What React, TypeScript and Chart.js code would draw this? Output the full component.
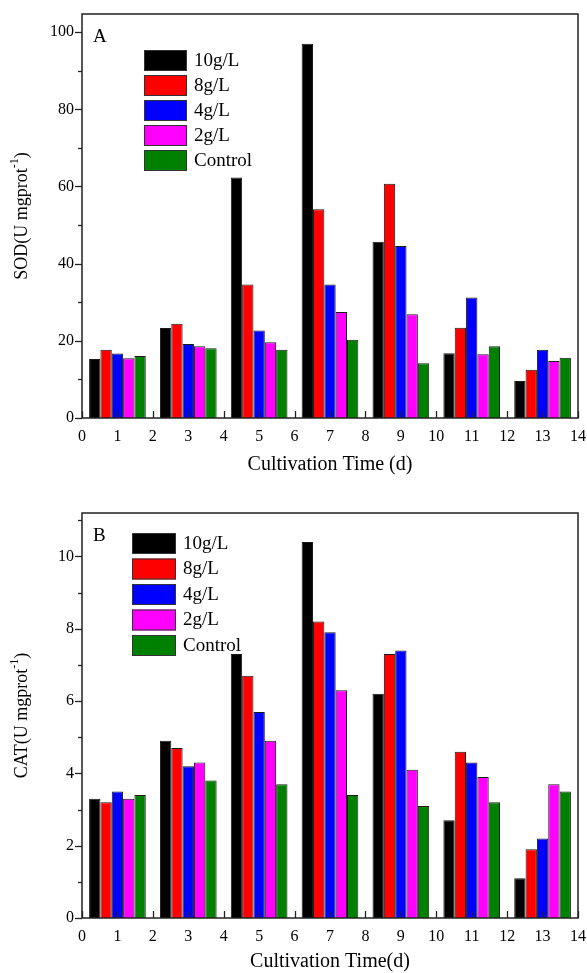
import React, { useEffect, useRef } from 'react';
import { Chart, registerables } from 'chart.js';

Chart.register(...registerables);

// ---------- data ----------
const days = [1, 3, 5, 7, 9, 11, 13];
const seriesLabels = ['10g/L', '8g/L', '4g/L', '2g/L', 'Control'];
const seriesColors = ['#000000', '#ff0000', '#0000ff', '#ff00ff', '#008000'];

const sod10 = [15.3, 23.3, 62.3, 97.0, 45.7, 16.8, 9.6];
const sod8 = [17.7, 24.4, 34.6, 54.1, 60.7, 23.4, 12.5];
const sod4 = [16.7, 19.2, 22.7, 34.6, 44.6, 31.2, 17.7];
const sod2 = [15.5, 18.6, 19.6, 27.5, 26.9, 16.5, 14.8];
const sodControl = [16.1, 18.1, 17.7, 20.3, 14.2, 18.6, 15.6];

const cat10 = [3.3, 4.9, 7.3, 10.4, 6.2, 2.7, 1.1];
const cat8 = [3.2, 4.7, 6.7, 8.2, 7.3, 4.6, 1.9];
const cat4 = [3.5, 4.2, 5.7, 7.9, 7.4, 4.3, 2.2];
const cat2 = [3.3, 4.3, 4.9, 6.3, 4.1, 3.9, 3.7];
const catControl = [3.4, 3.8, 3.7, 3.4, 3.1, 3.2, 3.5];

const xMin = 0;
const xMax = 14;

const FONT = "'Liberation Serif', 'Times New Roman', serif";

type PanelCfg = {
  letter: string;
  yTitle: string;
  ySup: string;
  xTitle: string;
  yMax: number;
  yStep: number;
  yLabelEvery: number;
  series: number[][];
  canvasH: number;
  padTop: number;
  xAxisH: number;
  legendX: number;
  legendY: number;
  legendPitch: number;
  legendW: number;
  letterY: number;
  xTitleY: number;
};

const topCfg: PanelCfg = {
  letter: 'A',
  yTitle: 'SOD(U mgprot',
  ySup: '-1',
  xTitle: 'Cultivation Time (d)',
  yMax: 104.7,
  yStep: 10,
  yLabelEvery: 20,
  series: [sod10, sod8, sod4, sod2, sodControl],
  canvasH: 487,
  padTop: 14,
  xAxisH: 69,
  legendX: 144,
  legendY: 50,
  legendPitch: 25,
  legendW: 43,
  letterY: 37,
  xTitleY: 465,
};

const bottomCfg: PanelCfg = {
  letter: 'B',
  yTitle: 'CAT(U mgprot',
  ySup: '-1',
  xTitle: 'Cultivation Time(d)',
  yMax: 11.2,
  yStep: 1,
  yLabelEvery: 2,
  series: [cat10, cat8, cat4, cat2, catControl],
  canvasH: 486,
  padTop: 26,
  xAxisH: 55,
  legendX: 132,
  legendY: 46,
  legendPitch: 25.5,
  legendW: 44,
  letterY: 49,
  xTitleY: 475,
};

function makeDecor(cfg: PanelCfg) {
  return {
    id: 'decor' + cfg.letter,
    afterDatasetsDraw(chart: any) {
      const ctx = chart.ctx as CanvasRenderingContext2D;
      const a = chart.chartArea;
      const xs = chart.scales.x;
      const ys = chart.scales.y;
      ctx.save();
      // frame
      ctx.strokeStyle = '#222';
      ctx.lineWidth = 1.5;
      ctx.strokeRect(a.left, a.top, a.right - a.left, a.bottom - a.top);
      // x ticks (inward)
      ctx.lineWidth = 1.3;
      xs.ticks.forEach((t: any) => {
        const px = Math.round(xs.getPixelForValue(t.value)) + 0.5;
        ctx.beginPath();
        ctx.moveTo(px, a.bottom);
        ctx.lineTo(px, a.bottom - 7);
        ctx.stroke();
      });
      // y ticks (outward), major & minor
      ys.ticks.forEach((t: any) => {
        const py = Math.round(ys.getPixelForValue(t.value)) + 0.5;
        const major = Math.abs(t.value / cfg.yLabelEvery - Math.round(t.value / cfg.yLabelEvery)) < 1e-6;
        ctx.beginPath();
        ctx.moveTo(a.left, py);
        ctx.lineTo(a.left - (major ? 7 : 4), py);
        ctx.stroke();
      });
      // panel letter
      ctx.fillStyle = '#000';
      ctx.font = `19px ${FONT}`;
      ctx.textBaseline = 'middle';
      ctx.textAlign = 'left';
      ctx.fillText(cfg.letter, 93, cfg.letterY);
      // legend
      chart.data.datasets.forEach((ds: any, i: number) => {
        const y = cfg.legendY + i * cfg.legendPitch;
        ctx.fillStyle = ds.backgroundColor;
        ctx.fillRect(cfg.legendX, y, cfg.legendW, 21);
        ctx.strokeStyle = '#333';
        ctx.lineWidth = 1;
        ctx.strokeRect(cfg.legendX + 0.5, y + 0.5, cfg.legendW - 1, 20);
        ctx.fillStyle = '#000';
        ctx.font = `19px ${FONT}`;
        ctx.fillText(ds.label, cfg.legendX + cfg.legendW + 7, y + 11);
      });
      // x title
      ctx.textAlign = 'center';
      ctx.font = `20px ${FONT}`;
      ctx.fillText(cfg.xTitle, (a.left + a.right) / 2, cfg.xTitleY);
      // y title with superscript
      const mainFont = `18px ${FONT}`;
      const supFont = `12px ${FONT}`;
      ctx.font = mainFont;
      const w1 = ctx.measureText(cfg.yTitle).width;
      const w3 = ctx.measureText(')').width;
      ctx.font = supFont;
      const w2 = ctx.measureText(cfg.ySup).width;
      const total = w1 + w2 + w3;
      ctx.translate(22, (a.top + a.bottom) / 2);
      ctx.rotate(-Math.PI / 2);
      ctx.textAlign = 'left';
      ctx.textBaseline = 'middle';
      let x0 = -total / 2;
      ctx.font = mainFont;
      ctx.fillText(cfg.yTitle, x0, 0);
      x0 += w1;
      ctx.font = supFont;
      ctx.fillText(cfg.ySup, x0, -7);
      x0 += w2;
      ctx.font = mainFont;
      ctx.fillText(')', x0, 0);
      ctx.restore();
    },
  };
}

function Panel({ cfg, top }: { cfg: PanelCfg; top: number }) {
  const ref = useRef<HTMLCanvasElement | null>(null);
  useEffect(() => {
    if (!ref.current) return;
    const chart = new Chart(ref.current, {
      type: 'bar',
      data: {
        datasets: cfg.series.map((vals, i) => ({
          label: seriesLabels[i],
          data: days.map((d, j) => ({ x: d, y: vals[j] })),
          backgroundColor: seriesColors[i],
          borderColor: '#1a1a1a',
          borderWidth: 1,
          categoryPercentage: 1.6,
          barPercentage: 1.0,
        })),
      },
      options: {
        animation: false,
        responsive: false,
        devicePixelRatio: 1,
        layout: { padding: { left: 0, right: 9, top: cfg.padTop, bottom: 0 } },
        plugins: { legend: { display: false }, tooltip: { enabled: false } },
        scales: {
          x: {
            type: 'linear',
            min: xMin,
            max: xMax,
            offset: false,
            grid: { display: false, drawTicks: false, offset: false },
            border: { display: false },
            ticks: {
              stepSize: 1,
              color: '#000',
              font: { family: FONT, size: 16 },
              padding: 9,
              maxRotation: 0,
              autoSkip: false,
            },
            afterFit: (s: any) => {
              s.height = cfg.xAxisH;
              s.paddingLeft = 0;
              s.paddingRight = 0;
            },
          },
          y: {
            type: 'linear',
            min: 0,
            max: cfg.yMax,
            grid: { display: false, drawTicks: true, tickLength: 7 },
            border: { display: false },
            ticks: {
              stepSize: cfg.yStep,
              includeBounds: false,
              color: '#000',
              font: { family: FONT, size: 16 },
              padding: 1,
              autoSkip: false,
              callback: (v: any) => {
                const n = Number(v);
                const r = n / cfg.yLabelEvery;
                return Math.abs(r - Math.round(r)) < 1e-6 ? String(n) : '';
              },
            },
            afterFit: (s: any) => {
              s.width = 82;
              s.paddingTop = 0;
              s.paddingBottom = 0;
            },
          },
        },
      } as any,
      plugins: [makeDecor(cfg)],
    });
    return () => chart.destroy();
  }, [cfg]);
  return (
    <canvas
      ref={ref}
      width={587}
      height={cfg.canvasH}
      style={{ position: 'absolute', left: 0, top, width: 587, height: cfg.canvasH }}
    />
  );
}

export default function App() {
  return (
    <div style={{ position: 'absolute', left: 0, top: 0, width: 587, height: 973, background: '#fff' }}>
      <Panel cfg={topCfg} top={0} />
      <Panel cfg={bottomCfg} top={487} />
    </div>
  );
}
